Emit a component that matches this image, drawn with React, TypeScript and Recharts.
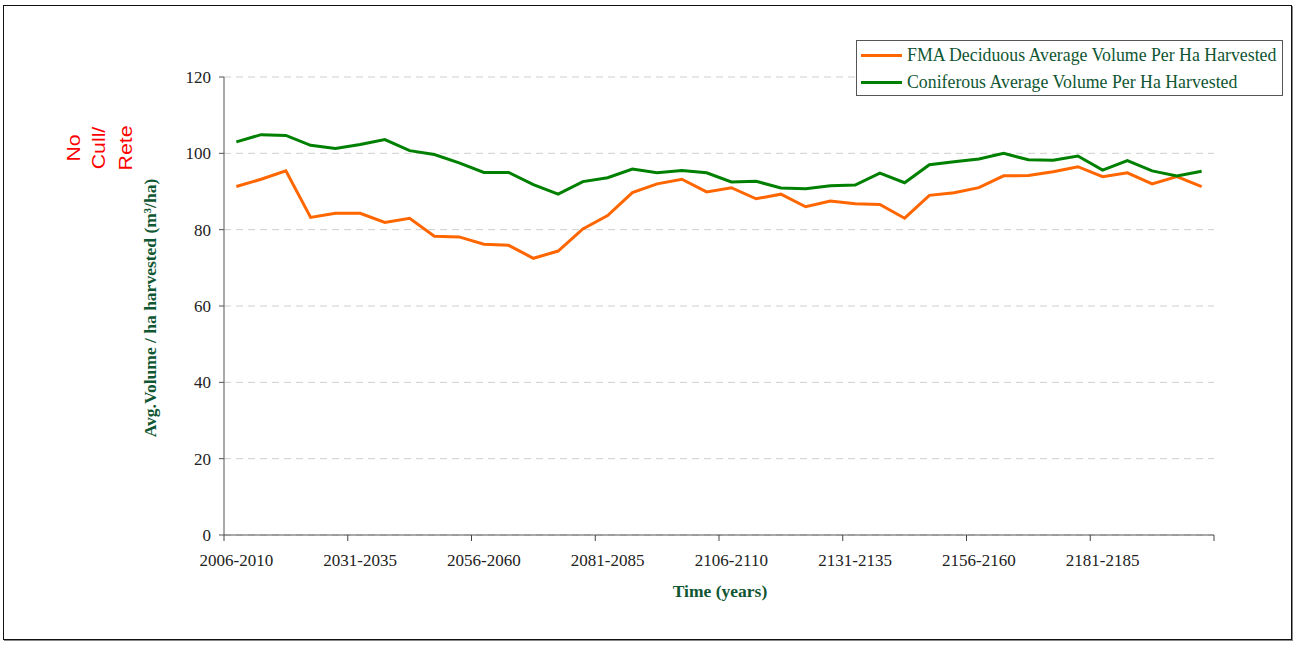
import { LineChart, Line, XAxis, YAxis, CartesianGrid } from "recharts"

const periods = [
  "2006-2010", "2011-2015", "2016-2020", "2021-2025", "2026-2030",
  "2031-2035", "2036-2040", "2041-2045", "2046-2050", "2051-2055",
  "2056-2060", "2061-2065", "2066-2070", "2071-2075", "2076-2080",
  "2081-2085", "2086-2090", "2091-2095", "2096-2100", "2101-2105",
  "2106-2110", "2111-2115", "2116-2120", "2121-2125", "2126-2130",
  "2131-2135", "2136-2140", "2141-2145", "2146-2150", "2151-2155",
  "2156-2160", "2161-2165", "2166-2170", "2171-2175", "2176-2180",
  "2181-2185", "2186-2190", "2191-2195", "2196-2200", "2201-2205",
]

const deciduous = [
  91.3, 93.2, 95.4, 83.2, 84.3, 84.3, 81.9, 83.0, 78.3, 78.1,
  76.2, 75.9, 72.5, 74.4, 80.2, 83.7, 89.7, 92.0, 93.2, 89.9,
  91.0, 88.1, 89.3, 86.0, 87.5, 86.8, 86.6, 83.0, 89.0, 89.7,
  91.0, 94.1, 94.2, 95.2, 96.5, 93.9, 94.9, 92.0, 93.9, 91.3,
]

const coniferous = [
  103.0, 104.9, 104.7, 102.1, 101.3, 102.3, 103.6, 100.7, 99.7, 97.5,
  95.0, 95.0, 91.8, 89.3, 92.6, 93.6, 95.9, 94.9, 95.5, 94.9,
  92.5, 92.7, 90.9, 90.7, 91.5, 91.7, 94.8, 92.3, 97.0, 97.8,
  98.5, 100.0, 98.3, 98.2, 99.3, 95.6, 98.1, 95.4, 94.1, 95.3,
]

const yTicks = [0, 20, 40, 60, 80, 100, 120]

const series = [
  { key: "deciduous", name: "FMA Deciduous Average Volume Per Ha Harvested", color: "#ff6600" },
  { key: "coniferous", name: "Coniferous Average Volume Per Ha Harvested", color: "#008000" },
]

const data = periods.map((p, i) => ({ period: p, deciduous: deciduous[i], coniferous: coniferous[i] }))

const W = 1297
const H = 645
const M = { top: 77, right: 83, left: 0, bottom: 70 }
const Y_W = 224
const PLOT_W = W - M.right - Y_W
const BW = PLOT_W / periods.length
const serif = "'Liberation Serif', 'Times New Roman', serif"
const titleColor = "#0f5632"

// stray note in the corner of the original, kept as-is
const noteLines: [string, number][] = [["No", 80], ["Cull/", 105], ["Rete", 132]]

function XTick({ x, y, payload }: any) {
  const i = periods.indexOf(payload.value)
  const edge = x - BW / 2
  const closing = i + 5 >= periods.length
  const endX = edge + (periods.length - i) * BW
  return (
    <g>
      <line x1={edge} x2={edge} y1={y} y2={y + 6} stroke="#444" />
      {closing && <line x1={endX} x2={endX} y1={y} y2={y + 6} stroke="#444" />}
      <text x={x} y={y + 31} textAnchor="middle" fontFamily={serif} fontSize={17} fill="#222">
        {payload.value}
      </text>
    </g>
  )
}

export default function App() {
  return (
    <div style={{ position: "absolute", left: 0, top: 0, width: W, height: H, background: "#fff" }}>
      <div
        style={{
          position: "absolute", left: 3, top: 5, width: 1287, height: 633,
          border: "1px solid #111", boxShadow: "1px 1px 0 #888",
        }}
      />
      <LineChart width={W} height={H} data={data} margin={M}>
        <CartesianGrid vertical={false} stroke="#cfcfcf" strokeDasharray="7 5" />
        <XAxis
          dataKey="period"
          interval={4}
          padding={{ left: BW / 2, right: BW / 2 }}
          tickLine={false}
          tickSize={0}
          tickMargin={0}
          height={40}
          stroke="#555"
          tick={<XTick />}
        />
        <YAxis
          width={Y_W}
          domain={[0, 120]}
          ticks={yTicks}
          tickSize={5}
          tickMargin={8}
          stroke="#555"
          tick={{ fontFamily: serif, fontSize: 17, fill: "#222" }}
        />
        {series.map((s) => (
          <Line
            key={s.key}
            dataKey={s.key}
            name={s.name}
            stroke={s.color}
            strokeWidth={3}
            dot={false}
            activeDot={false}
            isAnimationActive={false}
          />
        ))}
        <text
          x={156} y={308} transform="rotate(-90, 156, 308)" textAnchor="middle"
          fontFamily={serif} fontSize={17.5} fontWeight="bold" fill={titleColor}
        >
          Avg.Volume / ha harvested (m³/ha)
        </text>
        <text x={720} y={597} textAnchor="middle" fontFamily={serif} fontSize={17.5} fontWeight="bold" fill={titleColor}>
          Time (years)
        </text>
        {noteLines.map(([t, bx]) => (
          <text
            key={t}
            x={0} y={0} transform={`translate(${bx}, 148) rotate(-90) scale(1.12, 1)`} textAnchor="middle"
            fontFamily="'Liberation Sans', Arial, sans-serif" fontSize={19} fill="#ff0000"
          >
            {t}
          </text>
        ))}
      </LineChart>
      <div
        style={{
          position: "absolute", left: 856, top: 40, width: 427, height: 56,
          border: "1px solid #555", background: "#fff", boxSizing: "border-box",
          padding: "1px 0 0 4px",
        }}
      >
        {series.map((s) => (
          <div key={s.key} style={{ display: "flex", alignItems: "center", height: 27 }}>
            <span style={{ display: "inline-block", width: 41, height: 3, background: s.color, marginRight: 5 }} />
            <span style={{ fontFamily: serif, fontSize: 17.8, color: titleColor, whiteSpace: "nowrap" }}>{s.name}</span>
          </div>
        ))}
      </div>
    </div>
  )
}
